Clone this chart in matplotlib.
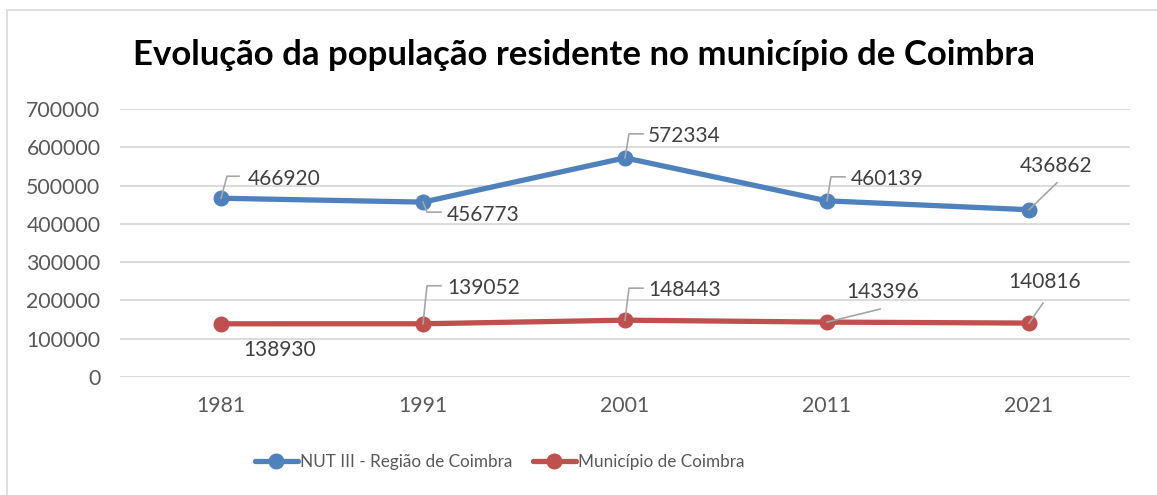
import matplotlib.pyplot as plt
import matplotlib.transforms as mtransforms
from matplotlib.patches import Rectangle

years = ["1981", "1991", "2001", "2011", "2021"]
nut3 = [466920, 456773, 572334, 460139, 436862]
municipio = [138930, 139052, 148443, 143396, 140816]
yticks = [0, 100000, 200000, 300000, 400000, 500000, 600000, 700000]

BLUE = "#4F81BD"
RED = "#C0504D"
TXT = "#404040"
FONT = "Lato"

# label offsets (pixels): text anchor (left, center) and leader polyline
blue_labels = [
    ((27, 19), [(0, 0), (6, 22), (18, 22)]),
    ((24, -13), [(0, 0), (4, -10), (18, -10)]),
    ((23, 22), [(0, 0), (4, 24), (18, 24)]),
    ((24, 22), [(0, 0), (4, 24), (18, 24)]),
    ((-9, 44), [(0, 0), (28, 27)]),
]
red_labels = [
    ((22, -26), None),
    ((24, 36), [(0, 0), (4, 38), (18, 38)]),
    ((23, 30), [(0, 0), (4, 32), (18, 32)]),
    ((19, 30), [(0, 0), (53, 13)]),
    ((-21, 41), [(0, 0), (14, 20)]),
]

plt.rcParams["font.family"] = [FONT, "DejaVu Sans"]

fig = plt.figure(figsize=(11.57, 4.95), dpi=100)
W, H = 1157, 495
fig.patches.append(Rectangle((7 / W, -0.1), 1.2, (H - 10) / H + 0.1,
                             transform=fig.transFigure, fill=False,
                             edgecolor="#D9D9D9", linewidth=1.2))
ax = fig.add_axes([120 / W, (H - 377) / H, 1010 / W, 268 / H])

x = list(range(len(years)))
ax.plot(x, nut3, color=BLUE, lw=3.8, marker="o", ms=10.5,
        solid_capstyle="round", label="NUT III - Região de Coimbra", zorder=3)
ax.plot(x, municipio, color=RED, lw=3.8, marker="o", ms=10.5,
        solid_capstyle="round", label="Município de Coimbra", zorder=3)


def add_labels(values, specs):
    for i, (v, (toff, leader)) in enumerate(zip(values, specs)):
        ax.annotate(f"{v}", xy=(i, v), xytext=toff, textcoords="offset pixels",
                    ha="left", va="center", fontsize=15, color=TXT, zorder=5)
        if leader:
            tr = mtransforms.IdentityTransform() + \
                mtransforms.ScaledTranslation(i, v, ax.transData)
            xs, ys = zip(*leader)
            ax.plot(xs, ys, transform=tr, color="#A6A6A6", lw=1.2, zorder=4,
                    clip_on=False)


add_labels(nut3, blue_labels)
add_labels(municipio, red_labels)

ax.set_xlim(-0.5, 4.5)
ax.set_ylim(0, 700000)
ax.set_yticks(yticks)
ax.set_yticklabels([str(t) for t in yticks])
ax.set_xticks(x)
ax.set_xticklabels(years)
ax.grid(axis="y", color="#D9D9D9", lw=1.3)
ax.set_axisbelow(True)
for s in ax.spines.values():
    s.set_visible(False)
ax.tick_params(length=0, labelsize=15.3, labelcolor="#595959")
ax.tick_params(axis="y", pad=14)
ax.tick_params(axis="x", pad=14)

fig.text(0.505, (H - 55) / H, "Evolução da população residente no município de Coimbra",
         ha="center", va="center", fontsize=25, fontweight="bold", color="black")

fig.legend(loc="center", bbox_to_anchor=(0.432, (H - 462) / H), ncol=2, frameon=False,
           fontsize=12.3, labelcolor="#595959", handlelength=2.5, handletextpad=0.15,
           columnspacing=1.2)

fig.savefig("out.png", dpi=100)
